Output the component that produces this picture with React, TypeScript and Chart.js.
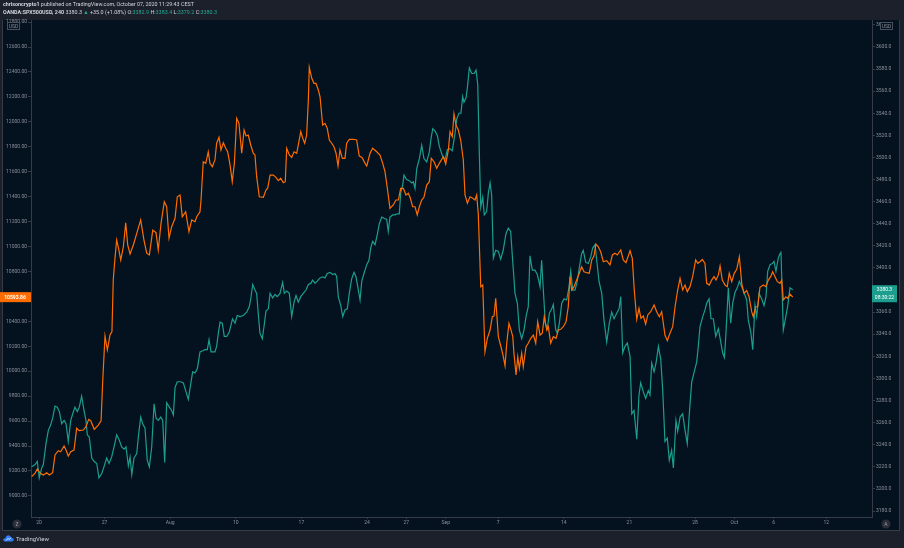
import React, { useEffect, useRef } from "react";
import { Chart, registerables } from "chart.js";

Chart.register(...registerables);

// ---- data (x = trading-day index, 0 = Mon 20 Jul 2020) ----
const btcDays = [
  -0.56, -0.3, -0.13, 0.08, 0.33, 0.59, 0.79, 1.04, 1.22, 1.47, 1.65, 1.91, 2.06, 2.23, 2.42, 2.67, 2.87, 3.07, 3.38, 3.58,
  3.79, 3.94, 4.21, 4.52, 4.73, 4.86, 5.03, 5.21, 5.41, 5.56, 5.66, 5.79, 5.92, 6.04, 6.23, 6.43, 6.61, 6.76, 6.94, 7.19,
  7.45, 7.75, 8.0, 8.21, 8.41, 8.67, 8.92, 9.09, 9.3, 9.55, 9.73, 9.91, 10.11, 10.37, 10.54, 10.75, 10.92, 11.18, 11.43, 11.64,
  11.89, 12.02, 12.27, 12.35, 12.52, 12.71, 12.9, 13.03, 13.21, 13.41, 13.54, 13.72, 13.87, 14.05, 14.23, 14.38, 14.56, 14.73, 14.89, 15.07,
  15.24, 15.45, 15.63, 15.78, 15.95, 16.14, 16.33, 16.46, 16.59, 16.79, 17.1, 17.3, 17.43, 17.61, 17.86, 18.06, 18.24, 18.42, 18.62, 18.77,
  18.88, 19.08, 19.26, 19.44, 19.64, 19.76, 19.95, 20.1, 20.25, 20.4, 20.53, 20.6, 20.79, 20.96, 21.11, 21.29, 21.42, 21.62, 21.8, 21.97,
  22.13, 22.31, 22.48, 22.64, 22.79, 22.94, 23.12, 23.32, 23.45, 23.65, 23.96, 24.21, 24.41, 24.62, 24.85, 24.98, 25.23, 25.43, 25.74, 25.99,
  26.2, 26.37, 26.55, 26.75, 27.0, 27.21, 27.39, 27.57, 27.77, 27.97, 28.15, 28.28, 28.48, 28.66, 28.83, 28.99, 29.17, 29.34, 29.55, 29.75,
  29.9, 30.11, 30.31, 30.51, 30.82, 31.0, 31.2, 31.33, 31.5, 31.63, 31.78, 31.96, 32.14, 32.34, 32.47, 32.65, 32.85, 33.06, 33.23, 33.36,
  33.48, 33.67, 33.82, 33.99, 34.17, 34.38, 34.55, 34.68, 34.81, 35.01, 35.21, 35.39, 35.52, 35.65, 35.82, 35.98, 36.11, 36.2, 36.36, 36.49,
  36.61, 36.79, 36.91, 37.12, 37.29, 37.48, 37.68, 37.86, 38.01, 38.19, 38.36, 38.51, 38.7, 38.82, 39.0, 39.2, 39.41, 39.58, 39.76, 39.96,
  40.17, 40.34, 40.47, 40.6, 40.78, 40.98, 41.18, 41.36, 41.54, 41.75, 41.94, 42.13, 42.3, 42.45, 42.63, 42.81, 43.01, 43.27, 43.52, 43.7,
  43.9, 44.08, 44.34, 44.53, 44.74, 45.05, 45.22, 45.37, 45.56, 45.73, 45.88, 46.06, 46.24, 46.4, 46.62, 46.88, 47.08, 47.28, 47.46, 47.71,
  47.89, 48.09, 48.3, 48.48, 48.68, 48.86, 49.06, 49.24, 49.41, 49.62, 49.82, 50.05, 50.21, 50.38, 50.56, 50.76, 50.89, 51.09, 51.27, 51.45,
  51.6, 51.78, 51.91, 52.08, 52.29, 52.46, 52.61, 52.8, 52.99, 53.18, 53.38, 53.56, 53.73, 53.94, 54.12, 54.32, 54.44, 54.63, 54.78, 54.95,
  55.21, 55.39, 55.59, 55.77, 55.92, 56.1, 56.28, 56.48, 56.61, 56.73, 56.92, 57.07, 57.24, 57.45,
];
const btcValues = [
  9154, 9183, 9216, 9183, 9167, 9186, 9167, 9186, 9328, 9362, 9354, 9400, 9368, 9320, 9354, 9368, 9542, 9523, 9528, 9555,
  9614, 9603, 9534, 9568, 9603, 9929, 10282, 10170, 10290, 10317, 10731, 10905, 11052, 10998, 10892, 10998, 11191, 11012, 10940, 11012,
  11106, 11213, 11052, 10946, 10932, 11132, 11111, 10972, 11186, 11359, 11319, 11066, 11159, 11226, 11399, 11413, 11239, 11279, 11119, 11213,
  11199, 11239, 11279, 11373, 11680, 11667, 11760, 11667, 11640, 11694, 11828, 11876, 11774, 11832, 11788, 11760, 11654, 11520, 11667, 12028,
  11988, 11748, 11934, 11886, 11894, 11814, 11748, 11734, 11560, 11399, 11395, 11453, 11467, 11573, 11573, 11555, 11528, 11547, 11512, 11520,
  11788, 11734, 11715, 11760, 11748, 11814, 11921, 11868, 11828, 11894, 12175, 12437, 12349, 12309, 12309, 12255, 12201, 11974, 11988, 11948,
  11854, 11828, 11800, 11748, 11646, 11774, 11707, 11707, 11828, 11860, 11860, 11854, 11726, 11715, 11667, 11646, 11748, 11788, 11760, 11734,
  11667, 11600, 11467, 11306, 11333, 11373, 11373, 11467, 11467, 11413, 11427, 11395, 11319, 11319, 11253, 11319, 11373, 11395, 11493, 11520,
  11707, 11680, 11627, 11667, 11720, 11662, 11774, 11921, 11881, 12063, 11974, 11934, 11854, 11694, 11413, 11347, 11399, 11387, 11373, 11413,
  11266, 10678, 10691, 10156, 10264, 10330, 10437, 10443, 10585, 10277, 10196, 10116, 10042, 10224, 10384, 10330, 10277, 10144, 9970, 10116,
  10023, 10144, 10036, 10196, 10224, 10264, 10290, 10224, 10397, 10290, 10304, 10437, 10330, 10357, 10224, 10277, 10264, 10330, 10336, 10357,
  10397, 10517, 10758, 10651, 10678, 10731, 10785, 10838, 10798, 10790, 10785, 10892, 10924, 11020, 10998, 10958, 10878, 10886, 10852, 10932,
  10946, 10932, 10972, 10892, 10870, 10966, 10905, 10651, 10416, 10504, 10424, 10443, 10378, 10451, 10477, 10531, 10477, 10437, 10477, 10290,
  10245, 10304, 10357, 10517, 10651, 10745, 10651, 10691, 10638, 10678, 10758, 10892, 10865, 10878, 10897, 10865, 10705, 10691, 10731, 10758,
  10731, 10772, 10844, 10731, 10691, 10678, 10785, 10718, 10785, 10817, 10918, 10705, 10625, 10646, 10597, 10477, 10437, 10517, 10517, 10673,
  10691, 10678, 10731, 10758, 10798, 10758, 10718, 10705, 10731, 10571, 10597, 10585, 10619, 10593.86,
];

const spxDays = [
  -0.56, -0.3, -0.13, 0.02, 0.21, 0.33, 0.53, 0.71, 0.89, 1.04, 1.22, 1.39, 1.55, 1.73, 1.91, 2.06, 2.23, 2.42, 2.57, 2.74,
  2.92, 3.07, 3.25, 3.43, 3.58, 3.68, 3.83, 4.02, 4.19, 4.4, 4.57, 4.78, 4.95, 5.16, 5.34, 5.54, 5.72, 5.92, 6.12, 6.3,
  6.48, 6.63, 6.81, 6.94, 7.07, 7.24, 7.45, 7.57, 7.75, 7.9, 8.08, 8.25, 8.41, 8.59, 8.77, 8.92, 9.09, 9.28, 9.43, 9.58,
  9.73, 9.93, 10.11, 10.24, 10.37, 10.54, 10.8, 11.0, 11.2, 11.38, 11.51, 11.71, 11.89, 12.07, 12.27, 12.48, 12.65, 12.83, 12.96, 13.11,
  13.41, 13.54, 13.67, 13.8, 13.97, 14.12, 14.31, 14.5, 14.75, 14.94, 15.11, 15.32, 15.57, 15.83, 16.03, 16.14, 16.29, 16.46, 16.59, 16.71,
  16.84, 17.02, 17.15, 17.3, 17.48, 17.61, 17.81, 17.99, 18.16, 18.37, 18.57, 18.7, 18.88, 19.08, 19.26, 19.44, 19.59, 19.76, 19.95, 20.14,
  20.35, 20.53, 20.71, 20.86, 21.04, 21.21, 21.42, 21.62, 21.8, 21.97, 22.18, 22.39, 22.56, 22.69, 22.81, 23.0, 23.15, 23.32, 23.5, 23.65,
  23.83, 24.01, 24.16, 24.34, 24.47, 24.6, 24.77, 24.98, 25.15, 25.28, 25.43, 25.61, 25.78, 25.94, 26.12, 26.3, 26.5, 26.62, 26.75, 26.96,
  27.13, 27.31, 27.46, 27.57, 27.72, 27.82, 28.02, 28.22, 28.41, 28.53, 28.66, 28.79, 28.99, 29.17, 29.34, 29.55, 29.75, 29.88, 30.01, 30.18,
  30.36, 30.51, 30.77, 30.95, 31.12, 31.33, 31.5, 31.71, 31.84, 32.01, 32.16, 32.29, 32.39, 32.55, 32.65, 32.8, 32.98, 33.16, 33.31, 33.44,
  33.56, 33.67, 33.82, 33.94, 34.12, 34.25, 34.38, 34.5, 34.63, 34.81, 35.01, 35.19, 35.38, 35.59, 35.77, 35.95, 36.1, 36.28, 36.46, 36.61,
  36.79, 36.97, 37.12, 37.29, 37.42, 37.6, 37.8, 37.98, 38.19, 38.31, 38.44, 38.59, 38.74, 38.9, 39.08, 39.2, 39.38, 39.51, 39.66, 39.84,
  40.02, 40.22, 40.4, 40.53, 40.68, 40.85, 41.03, 41.18, 41.36, 41.48, 41.67, 41.87, 42.05, 42.2, 42.38, 42.51, 42.68, 42.89, 43.06, 43.27,
  43.47, 43.65, 43.83, 44.03, 44.21, 44.34, 44.49, 44.66, 44.84, 45.05, 45.18, 45.35, 45.56, 45.73, 45.86, 46.06, 46.24, 46.44, 46.57, 46.7,
  46.88, 47.03, 47.21, 47.39, 47.54, 47.71, 47.89, 48.04, 48.22, 48.35, 48.55, 48.68, 48.86, 49.06, 49.24, 49.41, 49.62, 49.75, 49.92, 50.13,
  50.25, 50.38, 50.59, 50.76, 50.89, 51.07, 51.22, 51.4, 51.58, 51.78, 51.96, 52.11, 52.24, 52.36, 52.54, 52.72, 52.87, 53.05, 53.22, 53.38,
  53.56, 53.73, 53.94, 54.06, 54.25, 54.4, 54.57, 54.7, 54.88, 55.08, 55.26, 55.41, 55.54, 55.72, 55.89, 56.02, 56.17, 56.35, 56.48, 56.55,
  56.73, 56.92, 57.07, 57.24, 57.45,
];
const spxValues = [
  3220, 3222, 3225, 3210, 3219, 3222, 3241, 3253, 3258, 3264, 3275, 3274, 3270, 3259, 3262, 3259, 3243, 3262, 3268, 3274,
  3270, 3274, 3284, 3271, 3262, 3249, 3247, 3228, 3225, 3223, 3210, 3214, 3220, 3228, 3223, 3229, 3238, 3249, 3244, 3238,
  3236, 3238, 3221, 3229, 3213, 3228, 3232, 3247, 3265, 3259, 3255, 3226, 3220, 3238, 3277, 3264, 3262, 3265, 3262, 3224,
  3278, 3274, 3271, 3267, 3292, 3297, 3297, 3296, 3288, 3281, 3291, 3306, 3305, 3309, 3324, 3325, 3326, 3326, 3335, 3324,
  3324, 3329, 3341, 3351, 3350, 3338, 3338, 3342, 3354, 3350, 3357, 3356, 3357, 3360, 3365, 3372, 3385, 3380, 3377, 3359,
  3341, 3336, 3347, 3361, 3363, 3377, 3373, 3376, 3374, 3377, 3387, 3377, 3379, 3377, 3356, 3369, 3375, 3369, 3374, 3377,
  3380, 3385, 3386, 3389, 3386, 3388, 3391, 3392, 3391, 3395, 3396, 3394, 3395, 3392, 3374, 3366, 3356, 3362, 3363, 3377,
  3390, 3396, 3392, 3380, 3371, 3388, 3395, 3403, 3407, 3418, 3424, 3421, 3430, 3440, 3446, 3445, 3444, 3433, 3446, 3448,
  3448, 3449, 3449, 3468, 3475, 3484, 3480, 3479, 3477, 3478, 3472, 3490, 3499, 3511, 3499, 3496, 3505, 3517, 3526, 3524,
  3520, 3510, 3501, 3498, 3507, 3508, 3506, 3522, 3535, 3540, 3540, 3555, 3550, 3554, 3563, 3581, 3576, 3576, 3579, 3566,
  3504, 3455, 3464, 3448, 3451, 3468, 3477, 3466, 3409, 3416, 3415, 3408, 3416, 3431, 3436, 3433, 3407, 3377, 3368, 3344,
  3336, 3344, 3356, 3365, 3411, 3398, 3398, 3394, 3383, 3407, 3380, 3350, 3345, 3359, 3363, 3367, 3344, 3341, 3350, 3368,
  3372, 3371, 3383, 3397, 3380, 3380, 3388, 3400, 3413, 3416, 3405, 3404, 3410, 3418, 3421, 3407, 3388, 3377, 3353, 3333,
  3350, 3360, 3354, 3359, 3363, 3374, 3323, 3329, 3332, 3320, 3268, 3271, 3245, 3285, 3296, 3288, 3282, 3289, 3285, 3314,
  3306, 3314, 3329, 3317, 3289, 3243, 3246, 3226, 3235, 3219, 3262, 3252, 3265, 3268, 3253, 3241, 3277, 3297, 3305, 3315,
  3329, 3347, 3356, 3362, 3368, 3372, 3354, 3354, 3338, 3345, 3333, 3323, 3319, 3341, 3382, 3350, 3368, 3378, 3382, 3388,
  3383, 3378, 3371, 3353, 3342, 3326, 3366, 3356, 3377, 3372, 3366, 3374, 3397, 3403, 3404, 3406, 3397, 3409, 3413, 3415,
  3344, 3356, 3366, 3382, 3380.3,
];

const timeTickDays = [0, 5, 10, 15, 20, 25, 28, 31, 35, 40, 45, 50, 53, 56, 60];
const timeTickLabels = ["20", "27", "Aug", "10", "17", "24", "27", "Sep", "7", "14", "21", "28", "Oct", "6", "12"];
const btcTicks = [9000, 9200, 9400, 9600, 9800, 10000, 10200, 10400, 10600, 10800, 11000, 11200, 11400, 11600, 11800, 12000, 12200, 12400, 12600, 12800];
const spxTicks = [3180, 3200, 3220, 3240, 3260, 3280, 3300, 3320, 3340, 3360, 3380, 3400, 3420, 3440, 3460, 3480, 3500, 3520, 3540, 3560, 3580, 3600, 3620];

const btcLast = 10593.86;
const spxLast = 3380.3;
const countdown = "08:30:22";

// ---- styling ----
const OUTER = "#1c202a";
const PLOT_BG = "#04121f";
const LINE = "#363b47";
const TICK_TXT = "#8a8e98";
const ORANGE = "#ff6d00";
const TEAL = "#1b9e8e";
const FONT = "Roboto";
const PLOT_TOP = 20;

const framePlugin = {
  id: "frame",
  beforeDraw(chart: any) {
    const { ctx, width, height } = chart;
    ctx.save();
    ctx.fillStyle = OUTER;
    ctx.fillRect(0, 0, width, height);
    ctx.fillStyle = PLOT_BG;
    ctx.fillRect(2, PLOT_TOP, 898, 530 - PLOT_TOP);
    ctx.strokeStyle = LINE;
    ctx.lineWidth = 1;
    ctx.beginPath();
    ctx.moveTo(2, 530.5);
    ctx.lineTo(900, 530.5);
    ctx.moveTo(899.5, PLOT_TOP);
    ctx.lineTo(899.5, 531);
    ctx.moveTo(2.5, PLOT_TOP);
    ctx.lineTo(2.5, 531);
    ctx.stroke();
    ctx.restore();
  },
  afterDraw(chart: any) {
    const { ctx } = chart;
    const yl = chart.scales.yL;
    const yr = chart.scales.yR;
    ctx.save();
    ctx.textBaseline = "middle";
    ctx.textAlign = "center";
    // USD boxes
    const usd = (x: number, y: number) => {
      ctx.fillStyle = PLOT_BG;
      ctx.fillRect(x, y, 13, 8);
      ctx.strokeStyle = "#4a4f5b";
      ctx.strokeRect(x + 0.5, y + 0.5, 12, 7);
      ctx.fillStyle = TICK_TXT;
      ctx.font = `5px ${FONT}`;
      ctx.fillText("USD", x + 6.5, y + 4.3);
    };
    usd(7, 22);
    usd(880, 22);
    // last price: BTC (left)
    const yb = yl.getPixelForValue(btcLast);
    ctx.fillStyle = ORANGE;
    ctx.fillRect(0, yb - 5, 31, 10);
    ctx.fillStyle = "#ffffff";
    ctx.font = `bold 5px ${FONT}`;
    ctx.fillText(btcLast.toFixed(2), 15, yb + 0.3);
    // last price: SPX (right)
    const ys = yr.getPixelForValue(spxLast);
    ctx.fillStyle = TEAL;
    ctx.fillRect(872, ys - 4.5, 25, 17);
    ctx.fillStyle = "#ffffff";
    ctx.font = `5px ${FONT}`;
    ctx.fillText(spxLast.toFixed(1), 884.5, ys + 0.2);
    ctx.fillText(countdown, 884.5, ys + 8.2);
    // round buttons in the time row
    const btn = (x: number, y: number, t: string) => {
      ctx.beginPath();
      ctx.arc(x, y, 4.5, 0, Math.PI * 2);
      ctx.fillStyle = "#2a2e39";
      ctx.fill();
      ctx.fillStyle = "#9a9ea8";
      ctx.font = `5px ${FONT}`;
      ctx.fillText(t, x, y + 0.3);
    };
    btn(17, 524, "Z");
    btn(886, 524, "A");
    ctx.restore();
  },
};

export default function App() {
  const ref = useRef<HTMLCanvasElement>(null);

  useEffect(() => {
    document.body.style.margin = "0";
    const canvas = ref.current;
    if (!canvas) return;
    const tickFont = { family: FONT, size: 5 };
    const chart = new Chart(canvas, {
      type: "line",
      data: {
        datasets: [
          {
            label: "BTCUSD",
            data: btcDays.map((d, i) => ({ x: d, y: btcValues[i] })),
            yAxisID: "yL",
            borderColor: ORANGE,
            borderWidth: 1.2,
            pointRadius: 0,
            tension: 0,
          },
          {
            label: "SPX500USD",
            data: spxDays.map((d, i) => ({ x: d, y: spxValues[i] })),
            yAxisID: "yR",
            borderColor: TEAL,
            borderWidth: 1.2,
            pointRadius: 0,
            tension: 0,
          },
        ],
      },
      options: {
        animation: false,
        responsive: false,
        devicePixelRatio: window.devicePixelRatio || 1,
        layout: { padding: { top: PLOT_TOP, left: 0, right: 0, bottom: 0 } },
        plugins: { legend: { display: false }, tooltip: { enabled: false } },
        scales: {
          x: {
            type: "linear",
            min: -0.61,
            max: 63.49,
            afterBuildTicks: (s: any) => {
              s.ticks = timeTickDays.map((v) => ({ value: v }));
            },
            afterFit: (s: any) => {
              s.height = 31;
            },
            ticks: {
              autoSkip: false,
              maxRotation: 0,
              padding: 1,
              color: TICK_TXT,
              font: tickFont,
              callback: (_v: any, i: number) => timeTickLabels[i],
            },
            grid: { drawOnChartArea: false, tickLength: 2, color: LINE },
            border: { color: LINE },
          },
          yL: {
            type: "linear",
            position: "left",
            min: 8830.7,
            max: 12816.6,
            afterBuildTicks: (s: any) => {
              s.ticks = btcTicks.map((v) => ({ value: v }));
            },
            afterFit: (s: any) => {
              s.width = 31;
            },
            ticks: {
              padding: 1,
              color: TICK_TXT,
              font: tickFont,
              callback: (v: any) => Number(v).toFixed(2),
            },
            grid: { drawOnChartArea: false, tickLength: 3, color: LINE },
            border: { color: LINE },
          },
          yR: {
            type: "linear",
            position: "right",
            min: 3174.6,
            max: 3624.4,
            afterBuildTicks: (s: any) => {
              s.ticks = spxTicks.map((v) => ({ value: v }));
            },
            afterFit: (s: any) => {
              s.width = 32;
            },
            ticks: {
              padding: 1,
              color: TICK_TXT,
              font: tickFont,
              callback: (v: any) => Number(v).toFixed(1),
            },
            grid: { drawOnChartArea: false, tickLength: 3, color: LINE },
            border: { color: LINE },
          },
        },
      },
      plugins: [framePlugin],
    });
    return () => chart.destroy();
  }, []);

  const teal = { color: "#22ab94" };
  return (
    <div style={{ position: "relative", width: 904, height: 548, overflow: "hidden", background: OUTER }}>
      <canvas ref={ref} width={904} height={548} style={{ position: "absolute", left: 0, top: 0, width: 904, height: 548 }} />
      <div
        style={{
          position: "absolute",
          left: 3,
          top: 1,
          fontFamily: FONT,
          fontSize: "5.4px",
          lineHeight: "7.8px",
          color: "#d1d4dc",
          whiteSpace: "nowrap",
        }}
      >
        <div>
          <b>chrisoncrypto1</b> published on TradingView.com, October 07, 2020 11:29:43 CEST
        </div>
        <div>
          <b>OANDA:SPX500USD, 240</b> 3380.3 <span style={teal}>▲</span> +35.0 (+1.08%) O:<span style={teal}>3382.9</span>{" "}
          H:<span style={teal}>3383.4</span> L:<span style={teal}>3379.2</span> C:<span style={teal}>3380.3</span>
        </div>
      </div>
      <div
        style={{
          position: "absolute",
          left: 3,
          top: 534,
          display: "flex",
          alignItems: "center",
          gap: 2,
          fontFamily: FONT,
          fontSize: "6px",
          color: "#d1d4dc",
        }}
      >
        <svg width="11" height="8" viewBox="0 0 11 8">
          <path d="M2 7.5 Q0 7.5 0.3 5.5 Q0.8 4 2.3 4.2 Q2.8 1.5 5.3 1.3 Q7.8 1.3 8.4 3.8 Q10.8 4 10.8 5.8 Q10.6 7.5 8.8 7.5 Z" fill="#2e7cf6" />
          <path d="M3 6.6 L5 4.3 L6.3 5.6 L8 3.6" stroke="#ffffff" strokeWidth="0.8" fill="none" />
        </svg>
        <span>TradingView</span>
      </div>
    </div>
  );
}
